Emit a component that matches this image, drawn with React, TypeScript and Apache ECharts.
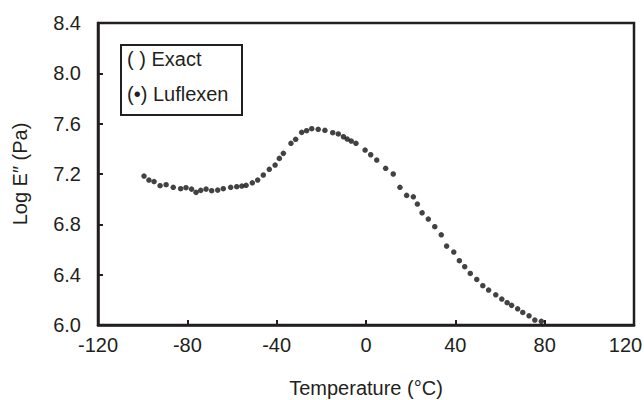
import React, { useEffect, useRef } from "react";
import * as echarts from "echarts";

const temperature = [
  -99.4, -97.2, -94.9, -92.2, -89.5, -86.3, -83.0, -80.6, -78.1, -76.1, -74.0, -71.6, -69.1, -66.4, -63.9,
  -60.6, -57.9, -55.6, -53.7, -50.9, -48.5, -46.0, -43.3, -40.7, -38.8, -37.0, -33.6, -31.5, -28.8, -26.6,
  -24.3, -21.4, -18.4, -14.9, -12.4, -10.1, -8.4, -6.6, -4.5, -0.4, 2.1, 4.8, 8.8, 12.2, 15.2, 18.2, 21.2,
  23.0, 25.1, 27.9, 30.8, 33.7, 36.1, 39.3, 41.8, 44.2, 46.7, 49.6, 52.3, 54.9, 58.1, 60.8, 63.2, 65.2,
  67.9, 70.2, 73.0, 75.6, 78.5,
];
const logE = [
  7.184, 7.152, 7.14, 7.107, 7.115, 7.094, 7.083, 7.091, 7.08, 7.054, 7.07, 7.08, 7.067, 7.072, 7.083,
  7.094, 7.099, 7.104, 7.11, 7.13, 7.152, 7.192, 7.237, 7.271, 7.324, 7.364, 7.444, 7.476, 7.531, 7.544,
  7.56, 7.555, 7.547, 7.528, 7.518, 7.496, 7.478, 7.462, 7.444, 7.39, 7.353, 7.311, 7.245, 7.2, 7.094,
  7.03, 7.019, 6.961, 6.892, 6.842, 6.781, 6.717, 6.627, 6.58, 6.511, 6.463, 6.41, 6.362, 6.312, 6.278,
  6.24, 6.206, 6.177, 6.156, 6.129, 6.1, 6.073, 6.039, 6.029,
];
const legendLabels = ["( ) Exact", "(•) Luflexen"];
const xTitle = "Temperature (°C)";
const yTitle = "Log E\u2033 (Pa)";
const X_MIN = -120;
const X_MAX = 120;

const INK = "#231f20";
const FONT = "Liberation Sans, Arial, sans-serif";

export default function App() {
  const ref = useRef<HTMLDivElement>(null);
  useEffect(() => {
    if (!ref.current) return;
    const chart = echarts.init(ref.current, undefined, { renderer: "svg" });
    const data = temperature.map((t, i) => [t, logE[i]]);
    chart.setOption({
      animation: false,
      backgroundColor: "#fff",
      grid: {
        left: 98,
        right: 10,
        top: 23,
        bottom: 75,
        outerBoundsMode: "none",
        containLabel: false,
        show: true,
        borderColor: INK,
        borderWidth: 2.5,
      },
      xAxis: {
        type: "value",
        min: X_MIN,
        max: X_MAX,
        interval: 40,
        name: xTitle,
        nameLocation: "middle",
        nameGap: 53,
        nameTextStyle: { color: INK, fontSize: 20, fontFamily: FONT },
        axisLine: { show: true, onZero: false, lineStyle: { color: INK, width: 2.5 } },
        axisTick: { show: true, inside: true, length: 5, lineStyle: { color: INK, width: 2 } },
        axisLabel: {
          color: INK,
          fontSize: 20,
          fontFamily: FONT,
          margin: 10,
          formatter: (v: number) => (v === X_MAX ? `{r|${v}}` : `${v}`),
          rich: {
            r: { color: INK, fontSize: 20, fontFamily: FONT, padding: [0, 17, 0, 0] },
          },
        },
        splitLine: { show: false },
      },
      yAxis: {
        type: "value",
        min: 6.0,
        max: 8.4,
        interval: 0.4,
        name: yTitle,
        nameLocation: "middle",
        nameGap: 68,
        nameTextStyle: { color: INK, fontSize: 20, fontFamily: FONT },
        axisLine: { show: true, onZero: false, lineStyle: { color: INK, width: 2.5 } },
        axisTick: { show: true, inside: true, length: 5, lineStyle: { color: INK, width: 2 } },
        axisLabel: {
          color: INK,
          fontSize: 20,
          fontFamily: FONT,
          margin: 17,
          formatter: (v: number) => v.toFixed(1),
        },
        splitLine: { show: false },
      },
      series: [
        {
          type: "scatter",
          data,
          symbol: "circle",
          symbolSize: 5.5,
          itemStyle: { color: "#151213" },
        },
      ],
      graphic: [
        {
          type: "rect",
          left: 120,
          top: 44,
          shape: { width: 121, height: 70 },
          style: { fill: "#fff", stroke: INK, lineWidth: 2 },
          z: 10,
        },
        {
          type: "text",
          left: 127,
          top: 49,
          style: { text: legendLabels[0], fill: INK, fontSize: 20, fontFamily: FONT },
          z: 11,
        },
        {
          type: "text",
          left: 127,
          top: 84,
          style: { text: legendLabels[1], fill: INK, fontSize: 20, fontFamily: FONT },
          z: 11,
        },
      ],
    });
    return () => chart.dispose();
  }, []);
  return (
    <div
      ref={ref}
      style={{ position: "fixed", left: 0, top: 0, width: 644, height: 400, background: "#fff" }}
    />
  );
}
